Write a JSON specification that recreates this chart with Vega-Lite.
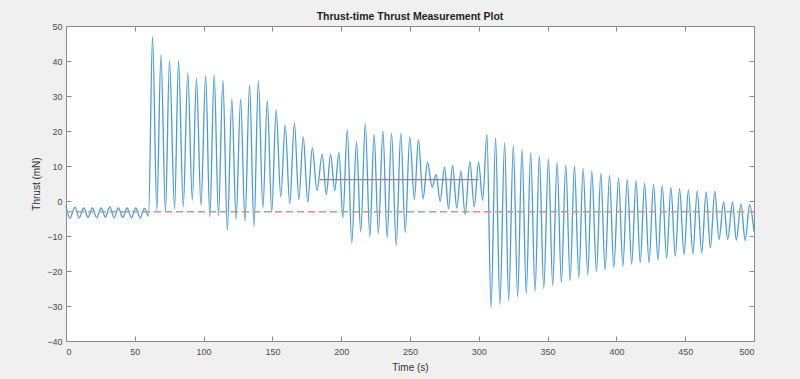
{
  "$schema": "https://vega.github.io/schema/vega-lite/v6.json",
  "width": 688,
  "height": 315,
  "autosize": {"type": "none"},
  "padding": {"left": 66, "top": 26, "right": 46, "bottom": 38},
  "background": "#f0f0f0",
  "config": {"view": {"fill": "white", "stroke": "#8c8c8c"}, "font": "Liberation Sans"},
  "title": {"text": "Thrust-time Thrust Measurement Plot", "fontSize": 10.5, "fontWeight": "bold", "color": "#222222", "anchor": "middle", "offset": 0, "font": "Liberation Sans"},
  "datasets": {
    "signal": [
      {"t": 0, "v": -1.4}, {"t": 2.8, "v": -4.9}, {"t": 6.5, "v": -1.8}, {"t": 9.7, "v": -4.8},
      {"t": 12.9, "v": -2.0}, {"t": 16.0, "v": -4.7}, {"t": 19.2, "v": -2.0}, {"t": 22.3, "v": -4.8},
      {"t": 25.5, "v": -2.0}, {"t": 28.6, "v": -4.6}, {"t": 31.8, "v": -1.7}, {"t": 35.0, "v": -4.8},
      {"t": 38.1, "v": -2.0}, {"t": 41.3, "v": -4.7}, {"t": 44.4, "v": -2.0}, {"t": 47.6, "v": -4.8},
      {"t": 50.7, "v": -2.0}, {"t": 53.9, "v": -4.8}, {"t": 57.0, "v": -2.1}, {"t": 60.0, "v": -4.3},
      {"t": 62.9, "v": 47.0}, {"t": 66.0, "v": -2.7}, {"t": 69.0, "v": 41.8}, {"t": 72.3, "v": -3.0},
      {"t": 75.2, "v": 40.1}, {"t": 78.9, "v": -2.2}, {"t": 81.8, "v": 40.0}, {"t": 85.2, "v": -1.6},
      {"t": 88.5, "v": 36.6}, {"t": 91.8, "v": 0.2}, {"t": 94.8, "v": 35.1}, {"t": 98.1, "v": -1.3},
      {"t": 101.5, "v": 35.8}, {"t": 104.5, "v": -4.5}, {"t": 107.7, "v": 36.0}, {"t": 110.8, "v": -4.2},
      {"t": 114.0, "v": 34.5}, {"t": 117.3, "v": -8.4}, {"t": 120.5, "v": 29.1}, {"t": 123.6, "v": -5.3},
      {"t": 126.9, "v": 29.1}, {"t": 130.1, "v": -5.8}, {"t": 133.4, "v": 33.1}, {"t": 136.6, "v": -7.4},
      {"t": 139.8, "v": 34.4}, {"t": 143.1, "v": -2.0}, {"t": 146.3, "v": 28.7}, {"t": 149.5, "v": -3.2},
      {"t": 152.7, "v": 26.1}, {"t": 156.1, "v": 1.2}, {"t": 159.3, "v": 21.7}, {"t": 162.6, "v": -0.8},
      {"t": 166.0, "v": 22.3}, {"t": 169.2, "v": 0.4}, {"t": 172.4, "v": 18.3}, {"t": 175.7, "v": -0.3},
      {"t": 179.0, "v": 15.2}, {"t": 182.4, "v": 3.0}, {"t": 186.2, "v": 13.3}, {"t": 189.2, "v": 1.8},
      {"t": 192.3, "v": 13.4}, {"t": 195.3, "v": 3.0}, {"t": 198.4, "v": 13.9}, {"t": 201.2, "v": -4.8},
      {"t": 204.4, "v": 20.4}, {"t": 207.7, "v": -12.0}, {"t": 211.1, "v": 17.0}, {"t": 214.2, "v": -8.9},
      {"t": 217.5, "v": 22.1}, {"t": 220.8, "v": -10.2}, {"t": 223.9, "v": 19.0}, {"t": 227.0, "v": -9.3},
      {"t": 230.3, "v": 20.0}, {"t": 233.4, "v": -10.5}, {"t": 236.6, "v": 19.4}, {"t": 240.0, "v": -12.7},
      {"t": 243.3, "v": 19.4}, {"t": 246.5, "v": -9.0}, {"t": 249.8, "v": 18.3}, {"t": 253.2, "v": 0.5},
      {"t": 256.1, "v": 17.5}, {"t": 259.5, "v": 0.7}, {"t": 262.7, "v": 11.1}, {"t": 266.1, "v": 4.0},
      {"t": 269.0, "v": 7.5}, {"t": 271.9, "v": -0.1}, {"t": 275.1, "v": 9.7}, {"t": 278.0, "v": -2.2},
      {"t": 280.9, "v": 10.2}, {"t": 284.0, "v": -2.0}, {"t": 287.0, "v": 8.5}, {"t": 290.1, "v": -3.9},
      {"t": 293.5, "v": 11.3}, {"t": 296.7, "v": -1.7}, {"t": 299.8, "v": 11.1}, {"t": 302.8, "v": 0.2},
      {"t": 305.9, "v": 19.0}, {"t": 308.9, "v": -30.5}, {"t": 312.2, "v": 18.0}, {"t": 315.3, "v": -29.6},
      {"t": 318.8, "v": 16.7}, {"t": 321.7, "v": -28.4}, {"t": 325.1, "v": 15.9}, {"t": 328.2, "v": -27.4},
      {"t": 331.4, "v": 14.8}, {"t": 334.5, "v": -26.5}, {"t": 337.7, "v": 13.8}, {"t": 340.9, "v": -25.8},
      {"t": 344.0, "v": 12.9}, {"t": 347.2, "v": -25.0}, {"t": 350.6, "v": 12.1}, {"t": 353.7, "v": -24.1},
      {"t": 356.9, "v": 11.1}, {"t": 360.0, "v": -23.3}, {"t": 363.2, "v": 10.4}, {"t": 366.4, "v": -22.7},
      {"t": 369.5, "v": 10.0}, {"t": 372.7, "v": -21.9}, {"t": 375.8, "v": 9.3}, {"t": 379.2, "v": -21.1},
      {"t": 382.1, "v": 8.6}, {"t": 385.5, "v": -20.1}, {"t": 388.7, "v": 7.9}, {"t": 391.8, "v": -19.7},
      {"t": 395.0, "v": 7.3}, {"t": 398.1, "v": -19.0}, {"t": 401.6, "v": 6.6}, {"t": 404.7, "v": -18.6},
      {"t": 407.9, "v": 6.2}, {"t": 411.1, "v": -18.0}, {"t": 414.3, "v": 5.8}, {"t": 417.3, "v": -17.6},
      {"t": 420.5, "v": 5.1}, {"t": 423.7, "v": -17.6}, {"t": 427.0, "v": 4.8}, {"t": 430.2, "v": -16.9},
      {"t": 433.3, "v": 4.4}, {"t": 436.5, "v": -16.3}, {"t": 439.6, "v": 3.9}, {"t": 442.8, "v": -15.8},
      {"t": 445.9, "v": 3.5}, {"t": 449.2, "v": -15.3}, {"t": 452.3, "v": 3.2}, {"t": 455.6, "v": -15.1},
      {"t": 458.7, "v": 2.9}, {"t": 462.0, "v": -14.8}, {"t": 465.2, "v": 2.6}, {"t": 468.3, "v": -13.4},
      {"t": 471.5, "v": 2.8}, {"t": 474.6, "v": -11.0}, {"t": 477.9, "v": -0.2}, {"t": 480.9, "v": -11.0},
      {"t": 484.4, "v": -0.3}, {"t": 487.2, "v": -11.2}, {"t": 490.5, "v": -0.8}, {"t": 493.6, "v": -11.3},
      {"t": 496.8, "v": -1.0}, {"t": 500.0, "v": -8.7}
    ],
    "dashed": [{"x0": 0, "x1": 500, "y": -3.1}],
    "solid": [{"x0": 184.5, "x1": 299.8, "y": 6.1}]
  },
  "layer": [
    {
      "data": {"name": "signal"},
      "mark": {"type": "line", "interpolate": "monotone", "color": "#4a9bd6", "strokeWidth": 1.3},
      "encoding": {
        "x": {"field": "t", "type": "quantitative", "scale": {"domain": [0, 500], "nice": false, "zero": false},
          "axis": {"orient": "bottom", "values": [0, 50, 100, 150, 200, 250, 300, 350, 400, 450, 500], "tickSize": -5, "labelPadding": 11, "grid": false,
            "domainColor": "#8c8c8c", "tickColor": "#8c8c8c", "labelColor": "#4d4d4d", "labelFontSize": 9, "labelFont": "Liberation Sans",
            "title": "Time (s)", "titleFontSize": 10, "titleFontWeight": "normal", "titleColor": "#333333", "titleFont": "Liberation Sans", "titlePadding": 6}},
        "y": {"field": "v", "type": "quantitative", "scale": {"domain": [-40, 50], "nice": false, "zero": false},
          "axis": {"orient": "left", "values": [-40, -30, -20, -10, 0, 10, 20, 30, 40, 50], "tickSize": -5, "labelPadding": 9, "grid": false,
            "domainColor": "#8c8c8c", "tickColor": "#8c8c8c", "labelColor": "#4d4d4d", "labelFontSize": 9, "labelFont": "Liberation Sans",
            "title": "Thrust (mN)", "titleFontSize": 10, "titleFontWeight": "normal", "titleColor": "#333333", "titleFont": "Liberation Sans", "titlePadding": 5}}
      }
    },
    {
      "data": {"name": "dashed"},
      "mark": {"type": "rule", "color": "#f08585", "strokeWidth": 1.5, "strokeDash": [7, 4]},
      "encoding": {
        "x": {"field": "x0", "type": "quantitative",
          "axis": {"orient": "top", "values": [0, 50, 100, 150, 200, 250, 300, 350, 400, 450, 500], "tickSize": -5, "labels": false, "title": null, "grid": false, "domainColor": "#8c8c8c", "tickColor": "#8c8c8c"}},
        "x2": {"field": "x1"},
        "y": {"field": "y", "type": "quantitative",
          "axis": {"orient": "right", "values": [-40, -30, -20, -10, 0, 10, 20, 30, 40, 50], "tickSize": -5, "labels": false, "title": null, "grid": false, "domainColor": "#8c8c8c", "tickColor": "#8c8c8c"}}
      }
    },
    {
      "data": {"name": "solid"},
      "mark": {"type": "rule", "color": "#e86464", "strokeWidth": 1.3},
      "encoding": {
        "x": {"field": "x0", "type": "quantitative", "axis": null},
        "x2": {"field": "x1"},
        "y": {"field": "y", "type": "quantitative", "axis": null}
      }
    }
  ],
  "resolve": {"axis": {"x": "independent", "y": "independent"}}
}
